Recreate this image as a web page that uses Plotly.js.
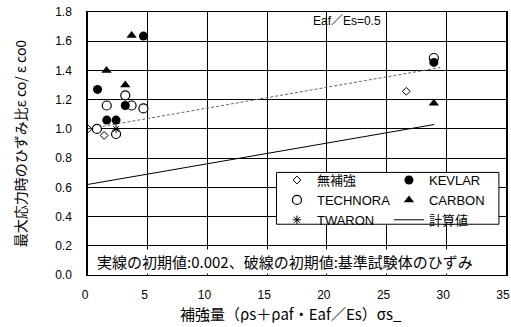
<!DOCTYPE html>
<html>
<head>
<meta charset="utf-8">
<script src="https://cdn.plot.ly/plotly-3.0.1.min.js"></script>
<style>html,body{margin:0;padding:0;background:#fff;}#chart{width:511px;height:327px;}</style>
</head>
<body>
<div id="chart"></div>
<script>
// ---- data ----
const mukyoX = [0, 1.35, 26.65];
const mukyoY = [1.0, 0.955, 1.257];
const technoraX = [0.75, 2.35, 1.57, 3.12, 3.65, 4.64, 28.96];
const technoraY = [1.0, 0.965, 1.16, 1.23, 1.16, 1.14, 1.485];
const kevlarX = [0.8, 1.57, 2.35, 3.12, 4.64, 28.96];
const kevlarY = [1.27, 1.06, 1.06, 1.16, 1.635, 1.455];
const carbonX = [1.55, 3.12, 3.65, 28.96];
const carbonY = [1.40, 1.30, 1.64, 1.175];
const twaronX = [2.35];
const twaronY = [1.0];
const calcX = [0, 29.0];
const calcY = [0.62, 1.03];
const dashX = [0, 29.5];
const dashY = [1.0, 1.42];
const xTicks = [0, 5, 10, 15, 20, 25, 30, 35];
const yTicks = [0, 0.2, 0.4, 0.6, 0.8, 1.0, 1.2, 1.4, 1.6, 1.8];

const FONT = 'Liberation Sans, Arial, Noto Sans CJK JP, sans-serif';
const JFONT = 'Noto Sans CJK JP, Liberation Sans, sans-serif';

const xMin = xTicks[0], xMax = xTicks[xTicks.length - 1];
const yMin = yTicks[0], yMax = yTicks[yTicks.length - 1];

const traces = [
  {x: dashX, y: dashY, mode: 'lines', showlegend: false, hoverinfo: 'skip',
   line: {color: '#666', width: 1, dash: '3px,2px'}},
  {x: mukyoX, y: mukyoY, mode: 'markers', name: '無補強', legend: 'legend',
   marker: {symbol: 'diamond-open', size: 6, color: '#000', line: {width: 1}}},
  {x: technoraX, y: technoraY, mode: 'markers', name: 'TECHNORA', legend: 'legend',
   marker: {symbol: 'circle', size: 9, color: '#fff', line: {width: 1.2, color: '#000'}}},
  {x: twaronX, y: twaronY, mode: 'markers', name: 'TWARON', legend: 'legend',
   marker: {symbol: 'asterisk-open', size: 7, color: '#000', line: {width: 1, color: '#000'}}},
  {x: kevlarX, y: kevlarY, mode: 'markers', name: 'KEVLAR', legend: 'legend2',
   marker: {symbol: 'circle', size: 9, color: '#000'}},
  {x: carbonX, y: carbonY, mode: 'markers', name: 'CARBON', legend: 'legend2',
   marker: {symbol: 'triangle-up', size: 9, color: '#000'}},
  {x: calcX, y: calcY, mode: 'lines', name: '計算値', legend: 'legend2',
   line: {color: '#000', width: 1}}
];

const legendBase = {
  bgcolor: 'rgba(0,0,0,0)', borderwidth: 0,
  font: {family: FONT, size: 13, color: '#000'},
  yanchor: 'middle', y: 0.285, xanchor: 'left', tracegroupgap: 0
};

const layout = {
  width: 511, height: 327,
  margin: {l: 88, r: 5, t: 12, b: 52},
  paper_bgcolor: 'white', plot_bgcolor: 'white',
  font: {family: FONT, size: 12, color: '#000'},
  xaxis: {
    range: [xMin, xMax], tickmode: 'array', tickvals: xTicks, ticktext: xTicks.map(String),
    ticks: 'outside', ticklen: 9, tickcolor: 'rgba(0,0,0,0)', ticklabelshift: -3,
    showgrid: true, gridcolor: 'rgb(0,0,0)', gridwidth: 1, zeroline: false,
    showline: true, linecolor: '#000000', linewidth: 1, mirror: true,
    tickfont: {family: FONT, size: 12}
  },
  yaxis: {
    range: [yMin, yMax], tickmode: 'array', tickvals: yTicks, ticktext: yTicks.map(v => v.toFixed(1)),
    ticks: 'outside', ticklen: 12, tickcolor: 'rgba(0,0,0,0)',
    showgrid: true, gridcolor: 'rgb(0,0,0)', gridwidth: 1, zeroline: false,
    showline: true, linecolor: '#000000', linewidth: 1.5, mirror: true,
    tickfont: {family: FONT, size: 12},
    title: {text: '最大応力時のひずみ比ε co/ ε co0', font: {family: JFONT, size: 14}, standoff: 25}
  },
  legend: Object.assign({}, legendBase, {x: 0.452}),
  legend2: Object.assign({}, legendBase, {x: 0.72}),
  shapes: [
    {type: 'rect', xref: 'paper', yref: 'paper', x0: 0.451, x1: 0.983, y0: 0.193, y1: 0.39,
     fillcolor: '#fff', line: {color: '#000', width: 1}, layer: 'above'}
  ],
  annotations: [
    {xref: 'paper', yref: 'paper', x: 0.62, y: 0.965, xanchor: 'center', yanchor: 'middle',
     text: 'Eaf／Es=0.5', showarrow: false, font: {family: FONT, size: 12}},
    {xref: 'paper', yref: 'paper', x: 0.016, y: 0.05, xanchor: 'left', yanchor: 'middle',
     text: '実線の初期値:0.002、破線の初期値:基準試験体のひずみ', showarrow: false,
     bgcolor: '#fff', font: {family: JFONT, size: 15}},
    {xref: 'paper', yref: 'paper', x: 0.485, y: -0.145, xanchor: 'center', yanchor: 'middle',
     text: '補強量（ρs＋ρaf・Eaf／Es）σs_', showarrow: false,
     font: {family: JFONT, size: 15}}
  ]
};

Plotly.newPlot('chart', traces, layout, {displayModeBar: false});
</script>
</body>
</html>
